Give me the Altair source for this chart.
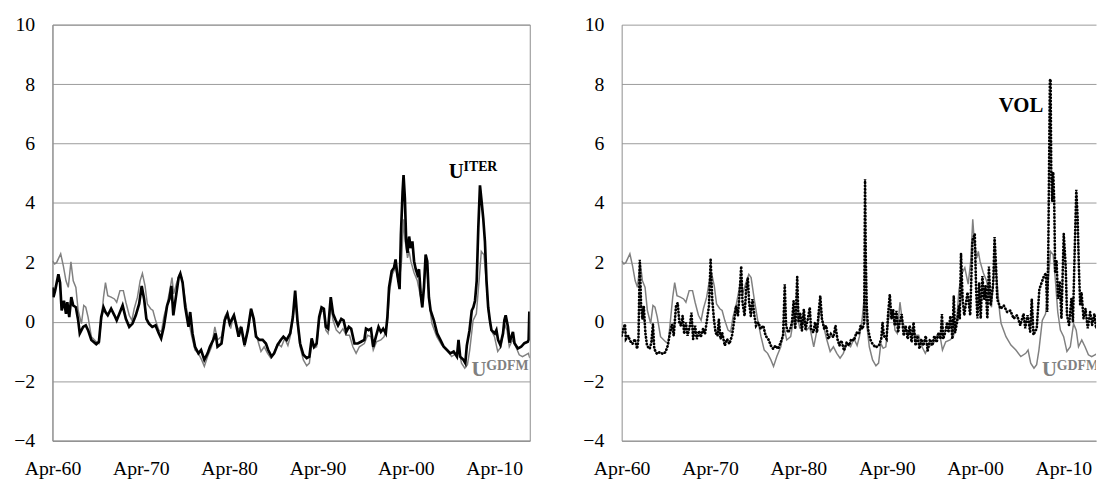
import altair as alt
import pandas as pd

# ---- data: (decimal year, value) ----
U_GDFM = [
    (1960.25, 2.05), (1960.5, 1.95), (1960.73, 2.0), (1961.18, 2.29), (1961.48, 1.88), (1961.78, 1.38),
    (1962.04, 1.16), (1962.34, 2.02), (1962.6, 1.38), (1962.9, 1.16), (1963.16, 0.38), (1963.53, -0.06),
    (1963.79, 0.55), (1964.02, 0.49), (1964.28, 0.16), (1964.65, -0.5), (1965.21, -0.67), (1965.51, -0.73),
    (1965.77, 0.05), (1966.03, 0.83), (1966.25, 1.32), (1966.51, 0.88), (1966.89, 0.83), (1967.26, 0.77),
    (1967.52, 0.66), (1967.89, 1.05), (1968.27, 1.05), (1968.56, 0.66), (1968.94, 0.22), (1969.24, 0.05),
    (1969.5, 0.44), (1969.87, 0.83), (1970.17, 1.38), (1970.43, 1.63), (1970.73, 1.21), (1970.99, 0.6),
    (1971.36, 0.44), (1971.62, 0.38), (1971.92, 0.05), (1972.29, -0.28), (1972.59, -0.34), (1972.85, 0.16),
    (1973.23, 0.6), (1973.52, 1.05), (1973.78, 1.49), (1973.97, 0.94), (1974.27, 1.27), (1974.64, 1.6),
    (1974.9, 1.49), (1975.28, 0.71), (1975.65, 0.05), (1976.02, -0.5), (1976.39, -0.95), (1976.77, -1.06),
    (1977.14, -1.28), (1977.44, -1.5), (1977.81, -1.17), (1978.26, -0.84), (1978.63, -0.17), (1978.93, -0.61),
    (1979.38, -0.5), (1979.75, 0.16), (1980.05, 0.33), (1980.42, -0.23), (1980.79, 0.27), (1981.17, -0.28),
    (1981.54, -0.17), (1981.99, -0.84), (1982.43, -0.17), (1982.73, 0.44), (1983.03, -0.06), (1983.48, -0.61),
    (1983.85, -1.0), (1984.22, -0.84), (1984.6, -1.06), (1984.97, -1.22), (1985.34, -1.06), (1985.72, -0.73),
    (1986.16, -0.84), (1986.54, -0.56), (1986.9, -0.8), (1987.16, -0.5), (1987.46, 0.05), (1987.72, 0.88),
    (1987.98, -0.06), (1988.28, -0.84), (1988.65, -1.28), (1989.03, -1.48), (1989.33, -1.39), (1989.59, -0.73),
    (1989.85, -0.89), (1990.15, -0.84), (1990.44, 0.05), (1990.71, 0.38), (1990.97, 0.33), (1991.19, -0.28),
    (1991.45, -0.39), (1991.75, 0.66), (1992.01, 0.05), (1992.38, -0.28), (1992.76, -0.39), (1993.13, -0.23),
    (1993.5, -0.45), (1993.87, -0.45), (1994.25, -0.84), (1994.62, -1.06), (1994.99, -0.84), (1995.55, -0.73),
    (1995.92, -0.45), (1996.3, -0.5), (1996.56, -0.95), (1996.93, -0.67), (1997.42, -0.61), (1997.79, -0.5),
    (1998.16, 0.0), (1998.42, 1.05), (1998.72, 1.6), (1999.09, 1.82), (1999.47, 1.27), (1999.76, 2.04),
    (1999.99, 3.45), (2000.14, 2.8), (2000.44, 2.15), (2000.62, 2.37), (2000.81, 2.04), (2001.18, 1.65),
    (2001.55, 1.38), (2001.93, 0.82), (2002.11, 0.49), (2002.49, 2.04), (2002.67, 1.6), (2003.05, 0.27),
    (2003.2, -0.06), (2003.75, -0.5), (2004.31, -0.78), (2004.87, -0.95), (2005.43, -1.17), (2005.99, -1.06),
    (2006.25, -0.95), (2006.55, -1.39), (2006.92, -1.56), (2007.22, -1.44), (2007.48, -0.95), (2007.86, 0.05),
    (2008.23, 0.27), (2008.6, 1.6), (2008.79, 2.37), (2009.09, 2.26), (2009.35, 1.38), (2009.61, 0.33),
    (2009.91, -0.28), (2010.28, -0.5), (2010.65, -1.0), (2011.03, -0.84), (2011.4, -0.06), (2011.7, -0.28),
    (2011.96, -0.84), (2012.33, -0.61), (2012.7, -0.84), (2013.08, -1.11), (2013.45, -1.17), (2013.82, -1.11),
    (2014.12, -1.06), (2014.28, -1.22),
]

U_ITER = [
    (1960.25, 1.16), (1960.36, 0.83), (1960.55, 1.05), (1960.92, 1.6), (1961.11, 1.32), (1961.29, 0.38),
    (1961.55, 0.71), (1961.78, 0.27), (1961.93, 0.66), (1962.15, 0.16), (1962.38, 0.83), (1962.6, 0.55),
    (1962.9, 0.49), (1963.16, 0.05), (1963.34, -0.39), (1963.72, -0.17), (1964.02, -0.12), (1964.28, -0.28),
    (1964.65, -0.61), (1965.21, -0.75), (1965.51, -0.67), (1965.77, 0.16), (1966.03, 0.49), (1966.25, 0.33),
    (1966.51, 0.22), (1966.89, 0.44), (1967.26, 0.22), (1967.52, 0.05), (1967.82, 0.27), (1968.19, 0.55),
    (1968.56, 0.1), (1968.94, -0.17), (1969.31, -0.06), (1969.68, 0.22), (1970.06, 0.6), (1970.35, 1.21),
    (1970.62, 0.77), (1970.88, 0.1), (1971.17, -0.06), (1971.55, -0.17), (1971.92, -0.12), (1972.29, -0.39),
    (1972.55, -0.56), (1972.85, -0.17), (1973.23, 0.55), (1973.49, 0.77), (1973.71, 1.21), (1973.93, 0.22),
    (1974.27, 0.94), (1974.53, 1.49), (1974.72, 1.62), (1974.98, 1.32), (1975.28, 0.49), (1975.65, -0.17),
    (1975.84, 0.33), (1976.1, -0.39), (1976.39, -0.84), (1976.77, -1.06), (1977.07, -0.95), (1977.44, -1.28),
    (1977.81, -1.06), (1978.07, -0.84), (1978.45, -0.61), (1978.71, -0.39), (1978.93, -0.84), (1979.38, -0.73),
    (1979.75, 0.05), (1980.05, 0.27), (1980.31, -0.06), (1980.79, 0.22), (1981.06, -0.12), (1981.32, -0.5),
    (1981.62, -0.17), (1981.99, -0.78), (1982.36, -0.28), (1982.73, 0.44), (1983.03, 0.1), (1983.29, -0.5),
    (1983.67, -0.61), (1984.04, -0.61), (1984.41, -0.73), (1984.67, -0.95), (1985.05, -1.17), (1985.34, -1.06),
    (1985.72, -0.78), (1986.09, -0.61), (1986.39, -0.5), (1986.76, -0.61), (1987.16, -0.39), (1987.46, 0.16),
    (1987.72, 1.05), (1987.98, 0.05), (1988.28, -0.73), (1988.65, -1.11), (1989.03, -1.22), (1989.33, -1.17),
    (1989.59, -0.56), (1989.85, -0.84), (1990.15, -0.73), (1990.44, 0.16), (1990.71, 0.49), (1990.97, 0.44),
    (1991.19, -0.17), (1991.45, -0.23), (1991.75, 0.83), (1992.01, 0.27), (1992.31, 0.05), (1992.57, -0.12),
    (1992.94, 0.1), (1993.2, 0.05), (1993.5, -0.34), (1993.8, -0.17), (1994.06, -0.23), (1994.43, -0.73),
    (1994.81, -0.73), (1995.18, -0.67), (1995.55, -0.61), (1995.74, -0.23), (1996.04, -0.28), (1996.3, -0.23),
    (1996.56, -0.84), (1996.86, -0.5), (1997.16, -0.17), (1997.42, -0.34), (1997.68, -0.23), (1997.98, -0.39),
    (1998.16, 0.16), (1998.35, 1.16), (1998.65, 1.71), (1998.91, 1.82), (1999.09, 2.1), (1999.28, 1.6),
    (1999.54, 1.1), (1999.69, 2.93), (1999.88, 4.37), (1999.99, 4.94), (2000.14, 4.15), (2000.29, 2.71),
    (2000.44, 2.32), (2000.62, 2.87), (2000.81, 2.48), (2000.99, 2.71), (2001.18, 2.04), (2001.37, 1.77),
    (2001.55, 1.6), (2001.74, 1.77), (2001.93, 0.94), (2002.11, 0.49), (2002.3, 1.16), (2002.49, 2.26),
    (2002.67, 2.04), (2002.86, 0.82), (2003.05, 0.38), (2003.42, 0.05), (2003.79, -0.39), (2004.16, -0.61),
    (2004.54, -0.84), (2004.91, -0.95), (2005.28, -1.06), (2005.66, -1.0), (2006.03, -1.17), (2006.21, -0.61),
    (2006.4, -1.17), (2006.77, -1.28), (2006.98, -1.39), (2007.15, -0.8), (2007.45, -0.3), (2007.71, 0.38),
    (2007.89, 0.49), (2008.08, 0.71), (2008.27, 1.38), (2008.45, 3.15), (2008.64, 4.59), (2008.83, 4.04),
    (2009.01, 3.48), (2009.2, 2.71), (2009.38, 1.38), (2009.57, 0.49), (2009.76, 0.05), (2009.94, -0.28),
    (2010.32, -0.39), (2010.5, -0.28), (2010.69, -0.61), (2010.95, -0.78), (2011.25, -0.39), (2011.4, 0.05),
    (2011.55, 0.22), (2011.81, -0.17), (2011.99, -0.7), (2012.2, -0.5), (2012.37, -0.34), (2012.55, -0.72),
    (2012.93, -0.9), (2013.3, -0.84), (2013.67, -0.72), (2014.05, -0.67), (2014.15, -0.6), (2014.23, 0.35),
]

VOL = [
    (1960.25, -0.47), (1960.44, -0.24), (1960.62, -0.08), (1960.73, -0.58), (1961.0, -0.47), (1961.18, -0.63),
    (1961.48, -0.74), (1961.74, -0.58), (1962.0, -0.91), (1962.15, -0.58), (1962.3, 2.09), (1962.45, 0.53),
    (1962.6, 0.09), (1962.75, 0.53), (1962.93, -0.36), (1963.12, -0.8), (1963.42, -0.91), (1963.61, -0.69),
    (1963.79, -0.08), (1963.94, -0.91), (1964.24, -1.08), (1964.54, -1.02), (1964.91, -1.08), (1965.21, -1.02),
    (1965.47, -0.8), (1965.73, -0.36), (1965.95, -0.08), (1966.14, -0.47), (1966.4, 0.53), (1966.59, 0.64),
    (1966.78, -0.02), (1966.96, -0.13), (1967.15, 0.2), (1967.33, -0.41), (1967.52, -0.02), (1967.71, -0.47),
    (1967.97, -0.13), (1968.15, 0.31), (1968.34, -0.58), (1968.56, -0.13), (1968.75, -0.58), (1969.01, -0.3),
    (1969.2, -0.52), (1969.46, -0.24), (1969.68, -0.41), (1969.94, 0.14), (1970.13, 0.53), (1970.32, 2.09),
    (1970.5, 0.76), (1970.69, 0.09), (1970.88, -0.36), (1971.1, -0.47), (1971.25, 0.09), (1971.44, -0.58),
    (1971.62, -0.36), (1971.92, -0.8), (1972.18, -0.58), (1972.44, -0.74), (1972.74, -0.47), (1972.96, -0.02),
    (1973.19, 0.53), (1973.41, 0.2), (1973.6, 0.98), (1973.78, 1.87), (1973.93, 0.64), (1974.16, 0.2),
    (1974.34, 1.09), (1974.53, 1.48), (1974.68, 0.64), (1974.87, 0.2), (1975.05, 0.76), (1975.28, 0.2),
    (1975.46, -0.13), (1975.72, -0.02), (1975.98, -0.24), (1976.28, -0.13), (1976.54, -0.47), (1976.84, -0.58),
    (1977.14, -0.8), (1977.4, -0.91), (1977.66, -0.8), (1977.96, -0.91), (1978.26, -0.69), (1978.52, -0.47),
    (1978.71, 1.26), (1978.86, -0.13), (1979.08, -0.36), (1979.34, -0.24), (1979.53, -0.02), (1979.71, 0.7),
    (1979.9, -0.24), (1980.12, 1.51), (1980.27, -0.02), (1980.46, 0.31), (1980.65, -0.3), (1980.87, 0.42),
    (1981.06, -0.24), (1981.32, 0.09), (1981.54, 0.48), (1981.69, -0.24), (1981.95, -0.36), (1982.14, -0.02),
    (1982.36, -0.36), (1982.58, 0.42), (1982.73, 0.87), (1982.92, 0.09), (1983.18, -0.24), (1983.4, -0.13),
    (1983.63, -0.58), (1983.93, -0.41), (1984.22, -0.52), (1984.45, -0.13), (1984.67, -0.58), (1984.9, -0.8),
    (1985.12, -0.63), (1985.42, -0.97), (1985.72, -0.69), (1985.98, -0.8), (1986.24, -0.58), (1986.54, -0.63),
    (1986.83, -0.36), (1987.1, -0.41), (1987.3, -0.13), (1987.51, -0.24), (1987.7, -0.02), (1987.8, 4.8),
    (1987.88, 2.2), (1987.99, 0.53), (1988.14, -0.24), (1988.37, -0.58), (1988.63, -0.74), (1989.0, -0.86),
    (1989.37, -0.8), (1989.63, -0.58), (1989.78, -0.02), (1989.93, -0.47), (1990.23, -0.58), (1990.42, 0.31),
    (1990.6, 0.92), (1990.79, 0.09), (1990.98, 0.42), (1991.16, -0.13), (1991.35, 0.37), (1991.54, -0.36),
    (1991.72, -0.02), (1991.95, 0.26), (1992.17, -0.47), (1992.39, -0.13), (1992.62, -0.58), (1992.84, -0.13),
    (1993.06, -0.69), (1993.29, -0.02), (1993.51, -0.8), (1993.74, -0.47), (1993.96, -0.91), (1994.18, -0.58),
    (1994.41, -0.8), (1994.67, -0.47), (1994.89, -0.97), (1995.15, -0.58), (1995.41, -0.8), (1995.64, -0.47),
    (1995.9, -0.69), (1996.12, -0.36), (1996.35, -0.58), (1996.5, 0.26), (1996.64, -0.58), (1996.87, -0.36),
    (1997.09, -0.02), (1997.24, -0.36), (1997.46, 0.2), (1997.69, -0.58), (1997.84, 0.87), (1997.99, -0.36),
    (1998.21, -0.02), (1998.43, 0.53), (1998.52, 0.11), (1998.66, 2.3), (1998.84, 0.77), (1999.03, 0.22),
    (1999.4, 0.99), (1999.7, 0.22), (1999.96, 2.74), (2000.22, 2.96), (2000.37, 1.1), (2000.52, 0.11),
    (2000.71, 1.32), (2000.89, 0.11), (2001.08, 1.54), (2001.27, 0.77), (2001.45, 1.21), (2001.64, 0.11),
    (2001.82, 1.86), (2002.01, 0.55), (2002.31, 1.32), (2002.46, 2.85), (2002.61, 1.97), (2002.76, 0.77),
    (2003.13, 0.44), (2003.5, 0.55), (2003.88, 0.33), (2004.25, 0.38), (2004.62, 0.11), (2004.99, 0.22),
    (2005.37, -0.11), (2005.74, 0.27), (2005.93, -0.22), (2006.19, 0.22), (2006.49, -0.33), (2006.67, 0.77),
    (2006.86, -0.44), (2007.23, -0.22), (2007.53, 1.1), (2007.79, 1.32), (2008.05, 1.54), (2008.28, 1.64),
    (2008.42, 0.33), (2008.54, 2.41), (2008.72, 8.11), (2008.8, 8.17), (2008.87, 5.15), (2008.98, 4.06),
    (2009.1, 5.04), (2009.21, 4.06), (2009.32, 1.64), (2009.47, 2.08), (2009.65, 0.77), (2009.84, 1.32),
    (2010.03, 0.11), (2010.29, 2.96), (2010.51, 1.86), (2010.66, 0.22), (2010.89, -0.11), (2011.15, 0.77),
    (2011.33, 0.0), (2011.52, 2.3), (2011.71, 4.44), (2011.86, 3.51), (2012.0, 1.86), (2012.15, 0.55),
    (2012.3, 0.99), (2012.53, 0.11), (2012.75, 0.44), (2013.01, -0.22), (2013.27, 0.33), (2013.5, -0.11),
    (2013.76, 0.27), (2013.95, -0.22), (2014.13, 0.11),
]

X_TICKS = [1960.25, 1970.25, 1980.25, 1990.25, 2000.25, 2010.25]
Y_TICKS = [-4, -2, 0, 2, 4, 6, 8, 10]

# annotation anchors (decimal year, value)
ITER_LABEL = (2005.1, 4.83)
GDFM_LABEL_L = (2007.68, -1.83)
GDFM_LABEL_R = (2007.83, -1.82)
VOL_LABEL = (2007.98, 7.07)

FONT = "Liberation Serif"
GRID = "#9a9a9a"
BORDER = "#8c8c8c"
GRAYLINE = "#808080"

X0 = 1960.25
PX_PER_YEAR = 8.94
W_LEFT, W_RIGHT, H = 483, 480, 421


def frame(pairs):
    return pd.DataFrame({"t": [p[0] for p in pairs], "v": [p[1] for p in pairs]})


def enc_x(width):
    return alt.X(
        "t:Q",
        scale=alt.Scale(domain=[X0, X0 + width / PX_PER_YEAR], nice=False, zero=False),
        axis=alt.Axis(
            values=X_TICKS,
            labelExpr="'Apr-' + (floor(datum.value) % 100 < 10 ? '0' : '') + toString(floor(datum.value) % 100)",
            grid=False, ticks=False, labelPadding=18, labelFlush=False,
            domainColor=BORDER, title=None,
        ),
    )


def enc_y():
    return alt.Y(
        "v:Q",
        scale=alt.Scale(domain=[-4, 10], nice=False, zero=False),
        axis=alt.Axis(
            values=Y_TICKS, grid=True, gridColor=GRID, ticks=False, labelPadding=18,
            domainColor=BORDER, title=None, minExtent=38, maxExtent=38,
        ),
    )


def line(pairs, width, **style):
    return alt.Chart(frame(pairs)).mark_line(clip=True, **style).encode(
        x=enc_x(width), y=enc_y(), order="t:Q"
    )


def label(pos, text, width, color, size, dx=0, dy=0, align="left"):
    df = pd.DataFrame({"t": [pos[0]], "v": [pos[1]], "txt": [text]})
    return alt.Chart(df).mark_text(
        clip=True, align=align, baseline="alphabetic", font=FONT, fontWeight="bold",
        fontSize=size, color=color, dx=dx, dy=dy,
    ).encode(x=enc_x(width), y=enc_y(), text="txt:N")


left = alt.layer(
    line(U_GDFM, W_LEFT, color=GRAYLINE, strokeWidth=1.5),
    line(U_ITER, W_LEFT, color="black", strokeWidth=2.7),
    label(ITER_LABEL, "U", W_LEFT, "black", 21),
    label(ITER_LABEL, "ITER", W_LEFT, "black", 14, dx=15, dy=-7),
    label(GDFM_LABEL_L, "U", W_LEFT, GRAYLINE, 21),
    label(GDFM_LABEL_L, "GDFM", W_LEFT, GRAYLINE, 14, dx=15, dy=-6),
).properties(width=W_LEFT, height=H)

right = alt.layer(
    line(U_GDFM, W_RIGHT, color=GRAYLINE, strokeWidth=1.5),
    line(VOL, W_RIGHT, color="black", strokeWidth=2.7, strokeDash=[0.4, 3.0], strokeCap="round"),
    label(VOL_LABEL, "VOL", W_RIGHT, "black", 21, align="right"),
    label(GDFM_LABEL_R, "U", W_RIGHT, GRAYLINE, 21),
    label(GDFM_LABEL_R, "GDFM", W_RIGHT, GRAYLINE, 14, dx=15, dy=-6),
).properties(width=W_RIGHT, height=H, view=alt.ViewBackground(stroke="transparent"))

chart = (
    alt.hconcat(left, right, spacing=52)
    .properties(padding={"left": 5, "top": 3, "right": 0, "bottom": 5}, background="white")
    .configure_view(stroke=BORDER, strokeWidth=1)
    .configure_axis(labelFont=FONT, labelFontSize=20, labelColor="black", domainWidth=1)
)

chart.save("out.html", embed_options={"renderer": "svg", "actions": False})
